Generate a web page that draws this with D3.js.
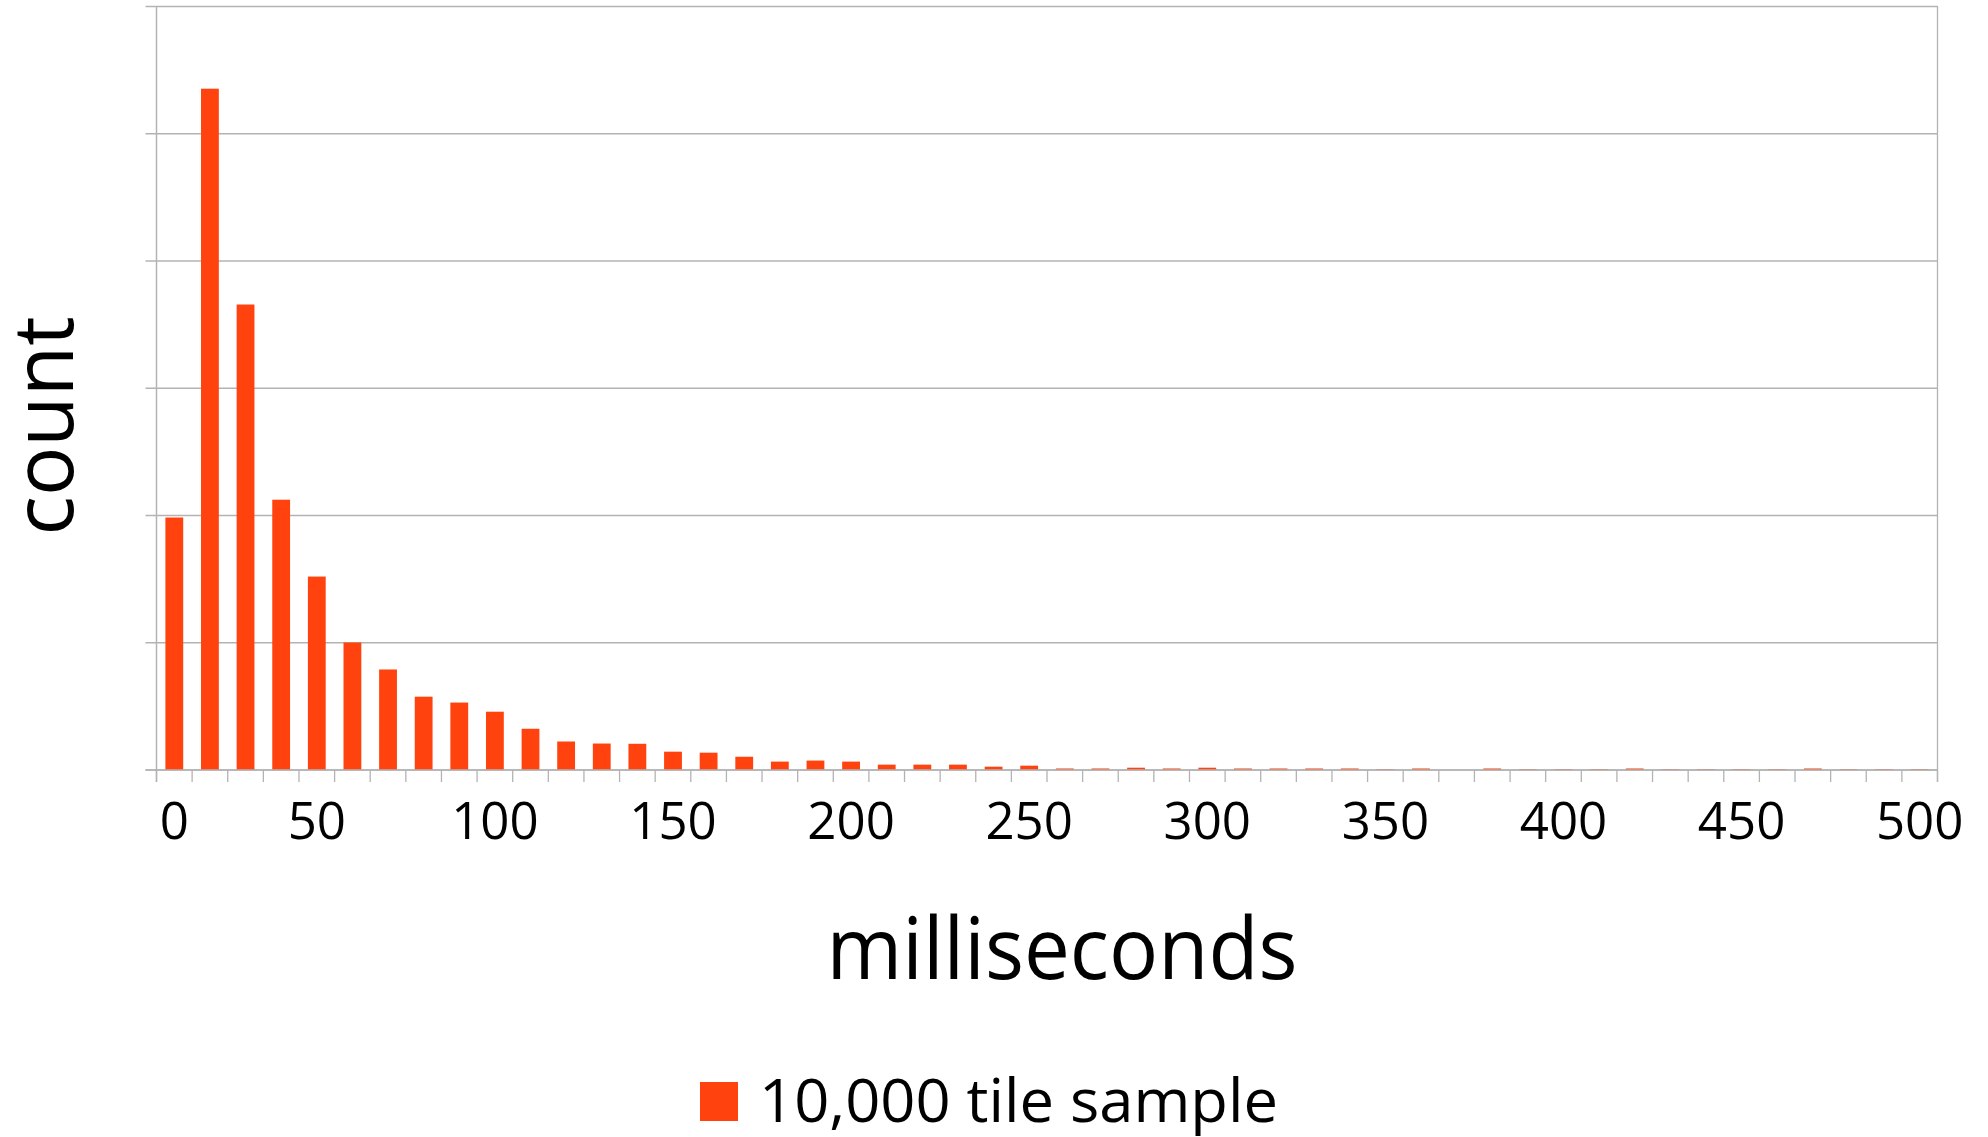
<!DOCTYPE html>
<html>
<head>
<meta charset="utf-8">
<script src="https://cdn.jsdelivr.net/npm/d3@7"></script>
<style>
  html, body { margin: 0; padding: 0; background: #ffffff; }
  svg { display: block; }
  text { font-family: "Open Sans", "Noto Sans", sans-serif; fill: #000; }
</style>
</head>
<body>
<svg id="chart" width="1988" height="1137"></svg>
<script>
// ---- data ----
// histogram bins (start of each 10 ms bin)
const binStarts = [0, 10, 20, 30, 40, 50, 60, 70, 80, 90,
  100, 110, 120, 130, 140, 150, 160, 170, 180, 190,
  200, 210, 220, 230, 240, 250, 260, 270, 280, 290,
  300, 310, 320, 330, 340, 350, 360, 370, 380, 390,
  400, 410, 420, 430, 440, 450, 460, 470, 480, 490];
// counts per bin
const counts = [992, 2677, 1829, 1062, 760, 501, 395, 288, 265, 229,
  162, 112, 104, 103, 72, 68, 52, 33, 37, 33,
  21, 21, 21, 13, 17, 6, 6, 9, 6, 9,
  6, 6, 6, 6, 3, 6, 0, 6, 3, 3,
  3, 6, 3, 3, 3, 3, 6, 3, 3, 3];
const seriesName = "10,000 tile sample";
// category-axis labels and the bins they sit under
const tickLabels = ["0", "50", "100", "150", "200", "250", "300", "350", "400", "450", "500"];
const tickBins = [0, 40, 90, 140, 190, 240, 290, 340, 390, 440, 490];
const yTicks = [0, 500, 1000, 1500, 2000, 2500, 3000];
const xTitle = "milliseconds";
const yTitle = "count";

// ---- layout ----
const svg = d3.select("#chart");
const plotLeft = 156.5, plotRight = 1937.5, plotTop = 6.5, plotBottom = 770;
const barColor = "#ff420e";
const gridColor = "#b3b3b3";

const x = d3.scaleBand()
  .domain(binStarts)
  .range([plotLeft, plotRight])
  .paddingInner(0.5)
  .paddingOuter(0.25);
const y = d3.scaleLinear().domain([0, 3000]).range([plotBottom, plotTop]);
const step = x.step();
const gap = (step - x.bandwidth()) / 2;

svg.append("rect").attr("width", 1988).attr("height", 1137).attr("fill", "#fff");

// gridlines + y ticks (no labels)
svg.append("g").selectAll("line").data(yTicks).join("line")
  .attr("x1", plotLeft - 11).attr("x2", plotRight)
  .attr("y1", d => y(d)).attr("y2", d => y(d))
  .attr("stroke", gridColor).attr("stroke-width", 1.3);

// bars
svg.append("g").selectAll("rect").data(counts).join("rect")
  .attr("x", (d, i) => x(binStarts[i]))
  .attr("width", x.bandwidth())
  .attr("y", d => y(d))
  .attr("height", d => plotBottom - y(d))
  .attr("fill", barColor);

// x axis ticks at bin boundaries
const boundaries = binStarts.map(b => x(b) - gap).concat([plotRight]);
svg.append("g").selectAll("line").data(boundaries).join("line")
  .attr("x1", d => d).attr("x2", d => d)
  .attr("y1", plotBottom).attr("y2", plotBottom + 12)
  .attr("stroke", gridColor).attr("stroke-width", 1.3);

// axis lines / frame
svg.append("line").attr("x1", plotLeft).attr("x2", plotLeft).attr("y1", plotTop - 0.5).attr("y2", plotBottom + 12)
  .attr("stroke", gridColor).attr("stroke-width", 1.5);
svg.append("line").attr("x1", plotRight).attr("x2", plotRight).attr("y1", plotTop - 0.5).attr("y2", plotBottom + 12)
  .attr("stroke", gridColor).attr("stroke-width", 1.3);
svg.append("line").attr("x1", plotLeft - 11).attr("x2", plotRight).attr("y1", plotBottom).attr("y2", plotBottom)
  .attr("stroke", gridColor).attr("stroke-width", 1.5);

// x tick labels
svg.append("g").selectAll("text").data(tickLabels).join("text")
  .attr("x", (d, i) => x(tickBins[i]) + x.bandwidth() / 2)
  .attr("y", 839)
  .attr("text-anchor", "middle")
  .attr("font-size", 51)
  .text(d => d);

// axis titles
svg.append("text")
  .attr("x", 1062).attr("y", 979)
  .attr("text-anchor", "middle")
  .attr("font-size", 86)
  .attr("textLength", 471).attr("lengthAdjust", "spacingAndGlyphs")
  .text(xTitle);

svg.append("text")
  .attr("transform", "translate(73,426) rotate(-90)")
  .attr("text-anchor", "middle")
  .attr("font-size", 84)
  .attr("textLength", 219).attr("lengthAdjust", "spacingAndGlyphs")
  .text(yTitle);

// legend
svg.append("rect").attr("x", 700).attr("y", 1082).attr("width", 38).attr("height", 39).attr("fill", barColor);
svg.append("text").attr("x", 759).attr("y", 1122)
  .attr("font-size", 61)
  .attr("textLength", 519).attr("lengthAdjust", "spacingAndGlyphs")
  .text(seriesName);
</script>
</body>
</html>
